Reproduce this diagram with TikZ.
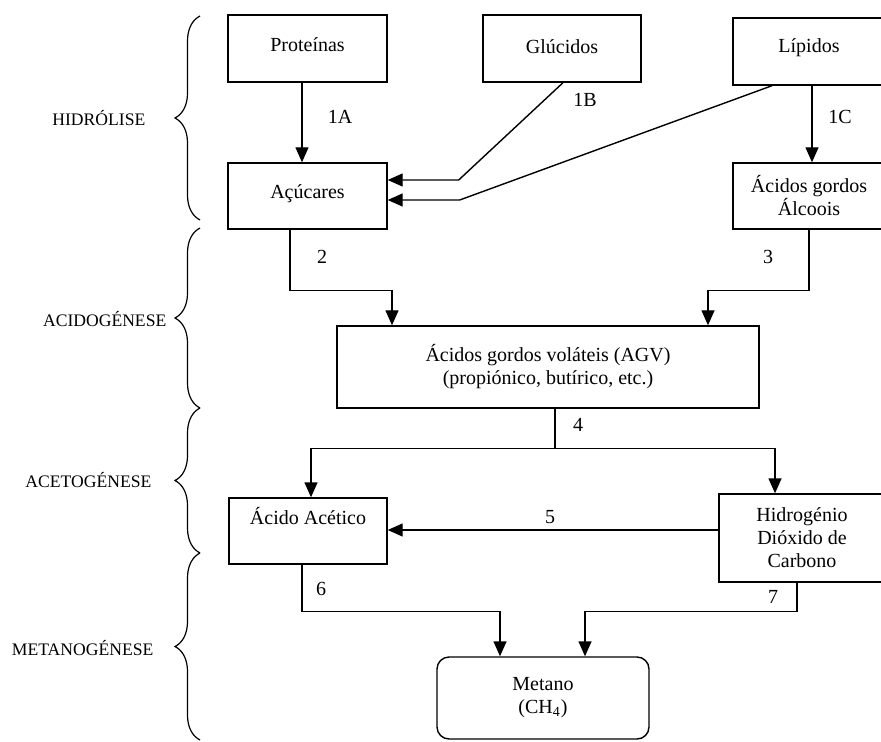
\documentclass[tikz,border=0pt]{standalone}
\usepackage{fontspec}
\setmainfont{Liberation Serif}
\usetikzlibrary{arrows.meta,decorations.pathreplacing}

\begin{document}
\begin{tikzpicture}[x=0.5pt,y=-0.5pt,line width=0.7pt,
  >={Triangle[length=7.5pt,width=6.5pt]},
  box/.style={draw,inner sep=2pt,text height=6.9pt},
  mbox/.style={draw,inner sep=2pt,align=center,font=\fontsize{10}{11.5}\selectfont},
  num/.style={inner sep=1pt},
  phase/.style={anchor=east,inner sep=0pt,font=\fontsize{8.8}{10}\selectfont},
  brc/.style={decorate,decoration={brace,amplitude=12.5pt},line width=0.6pt}]
\useasboundingbox (0,0) rectangle (881,742);

% substrates
\node[box,minimum width=79.5pt,minimum height=33.5pt,text depth=3.6pt] (prot) at (307.5,48.5) {Proteínas};
\node[box,minimum width=79pt,minimum height=33.5pt,text depth=1.6pt] (gluc) at (562,48.5) {Glúcidos};
\node[box,minimum width=76pt,minimum height=33.5pt,text depth=6.1pt] (lip) at (809,51.5) {Lípidos};

% hydrolysis products
\node[box,minimum width=79.5pt,minimum height=33pt,text depth=4.1pt] (acuc) at (307.5,196) {Açúcares};
\node[mbox,minimum width=76pt,minimum height=33pt] (gordos) at (809,196) {Ácidos gordos\\Álcoois};

% volatile acids
\node[mbox,minimum width=211pt,minimum height=41pt] (agv) at (548,367)
  {Ácidos gordos voláteis (AGV)\\(propiónico, butírico, etc.)};

% acetogenesis products
\node[box,minimum width=79pt,minimum height=33pt,text depth=13.1pt] (acet) at (308,531) {Ácido Acético};
\node[mbox,minimum width=83pt,minimum height=44pt] (hidro) at (802,538) {Hidrogénio\\Dióxido de\\Carbono};

% final product
\node[mbox,rounded corners=6pt,minimum width=106pt,minimum height=41pt] (metano) at (543,698)
  {Metano\\(CH\textsubscript{4})};

% hydrolysis
\draw[->] ([xshift=-2.75pt]prot.south) -- ([xshift=-2.75pt]acuc.north);
\draw[->] ([xshift=0.5pt]gluc.south) -- ([xshift=35.5pt,yshift=8pt]acuc.east) -- ([yshift=8pt]acuc.east);
\draw[->] ([xshift=-18.5pt]lip.south) -- ([xshift=36pt,yshift=-2pt]acuc.east) -- ([yshift=-2pt]acuc.east);
\draw[->] ([xshift=1.5pt]lip.south) -- ([xshift=1.5pt]gordos.north);
\node[num] (n1A) at (340,117) {1A};
\node[num] (n1B) at (585,100) {1B};
\node[num] (n1C) at (840,117) {1C};

% acidogenesis
\draw[->] ([xshift=-8.75pt]acuc.south) -- ++(0,61) -| ([xshift=-78pt]agv.north);
\draw[->] (gordos.south) -- ++(0,61) -| ([xshift=80pt]agv.north);
\node[num] (n2) at (322,257) {2};
\node[num] (n3) at (768,257) {3};

% acetogenesis
\draw[->] ([xshift=3.5pt]agv.south) -- ++(0,40) -| ([xshift=1.5pt]acet.north);
\draw[->] ([xshift=3.5pt]agv.south) -- ++(0,40) -| ([xshift=-13.5pt]hidro.north);
\node[num] (n4) at (578,425) {4};
\coordinate (h5) at ([yshift=4pt]hidro.west);
\draw[->] (h5) -- (h5 -| acet.east);
\node[num] (n5) at (550,517) {5};

% methanogenesis
\draw[->] ([xshift=-3pt]acet.south) -- ++(0,47) -| ([xshift=-21.5pt]metano.north);
\draw[->] ([xshift=-2.5pt]hidro.south) -- ++(0,29) -| ([xshift=21pt]metano.north);
\node[num] (n6) at (321,589) {6};
\node[num] (n7) at (773,597) {7};

% phases
\draw[brc] (200,220) -- (200,16);
\draw[brc] (200,408) -- (200,228);
\draw[brc] (200,553) -- (200,408);
\draw[brc] (200,740) -- (200,553);
\node[phase] (hid) at (146,118) {HIDRÓLISE};
\node[phase] (acid) at (167,319) {ACIDOGÉNESE};
\node[phase] (aceto) at (152,480) {ACETOGÉNESE};
\node[phase] (metan) at (154,648) {METANOGÉNESE};
\end{tikzpicture}
\end{document}
